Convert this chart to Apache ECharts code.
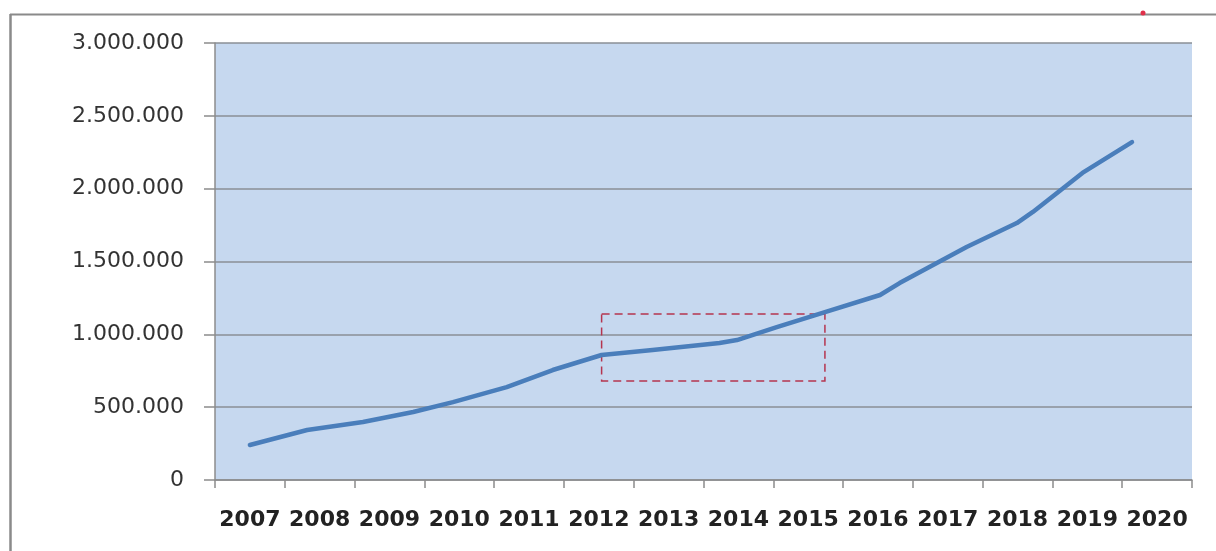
<!DOCTYPE html>
<html>
<head>
<meta charset="utf-8">
<style>
  html, body { margin: 0; padding: 0; background: #ffffff; }
  #chart { width: 1216px; height: 551px; }
</style>
<script src="https://cdn.jsdelivr.net/npm/echarts@6/dist/echarts.min.js"></script>
</head>
<body>
<div id="chart"></div>
<script>
// Year labels along the category axis
const years = ['2007','2008','2009','2010','2011','2012','2013','2014','2015','2016','2017','2018','2019','2020'];

// Cumulative total, sampled along the year axis (fractional years)
const sampleYears = [2007.0, 2007.82, 2008.62, 2009.34, 2009.91, 2010.68, 2011.34, 2012.04, 2012.77,
                     2013.73, 2013.98, 2014.55, 2015.24, 2016.03, 2016.31, 2017.27, 2017.99, 2018.22,
                     2018.93, 2019.64];
const sampleValues = [240000, 343000, 398000, 467000, 535000, 638000, 755000, 858000, 892000,
                      940000, 961000, 1050000, 1153000, 1270000, 1352000, 1600000, 1764000, 1840000,
                      2108000, 2320000];

// Highlighted period (dashed box): years and value range
const boxYears = [2012.04, 2015.24];
const boxValues = [680000, 1140000];

// Value axis ticks
const yMin = 0, yMax = 3000000, yStep = 500000;

function dotThousands(v) {
  return String(Math.round(v)).replace(/\B(?=(\d{3})+(?!\d))/g, '.');
}

const chart = echarts.init(document.getElementById('chart'), null, { renderer: 'canvas' });

chart.setOption({
  animation: false,
  backgroundColor: '#ffffff',
  grid: {
    left: 215, right: 24, top: 43, bottom: 71,
    show: true, backgroundColor: '#c6d8ef', borderWidth: 0
  },
  xAxis: [
    {
      type: 'category',
      data: years,
      boundaryGap: true,
      axisLine: { show: true, lineStyle: { color: '#8c8c8c', width: 1.5 } },
      axisTick: { show: true, length: 8, alignWithLabel: false, interval: 0, lineStyle: { color: '#8c8c8c', width: 1.5 } },
      axisLabel: {
        interval: 0,
        hideOverlap: false,
        margin: 29,
        color: '#222222',
        fontFamily: 'DejaVu Sans',
        fontWeight: 'bold',
        fontSize: 22
      },
      splitLine: { show: false }
    },
    {
      type: 'value',
      min: 2006.5, max: 2020.5,
      show: false,
      splitLine: { show: false }
    }
  ],
  yAxis: {
    type: 'value',
    min: yMin, max: yMax, interval: yStep,
    axisLine: { show: true, lineStyle: { color: '#8c8c8c', width: 1.5 } },
    axisTick: { show: true, length: 11, lineStyle: { color: '#8c8c8c', width: 1.5 } },
    axisLabel: {
      margin: 31,
      color: '#333333',
      fontFamily: 'DejaVu Sans',
      fontSize: 22,
      formatter: dotThousands
    },
    splitLine: { show: true, lineStyle: { color: '#8a8f96', width: 1.5 } }
  },
  series: [
    {
      type: 'line',
      xAxisIndex: 1,
      data: sampleYears.map((y, i) => [y, sampleValues[i]]),
      showSymbol: false,
      smooth: false,
      lineStyle: { color: '#4a7ebb', width: 4.5, cap: 'round', join: 'round' },
      markArea: {
        silent: true,
        itemStyle: {
          color: 'rgba(0,0,0,0)',
          borderColor: '#b5354f',
          borderWidth: 1.5,
          borderType: [8, 5]
        },
        data: [[
          { coord: [boxYears[0], boxValues[1]] },
          { coord: [boxYears[1], boxValues[0]] }
        ]]
      },
      z: 3
    }
  ],
  graphic: [
    // outer frame (top and left edges)
    { type: 'line', shape: { x1: 10, y1: 14.5, x2: 1216, y2: 14.5 }, style: { stroke: '#8a8a8a', lineWidth: 2 } },
    { type: 'line', shape: { x1: 10.5, y1: 14, x2: 10.5, y2: 551 }, style: { stroke: '#8a8a8a', lineWidth: 2.5 } },
    // small red mark on the frame
    { type: 'circle', shape: { cx: 1143, cy: 13, r: 2.5 }, style: { fill: '#e0304a' } }
  ]
});
</script>
</body>
</html>
